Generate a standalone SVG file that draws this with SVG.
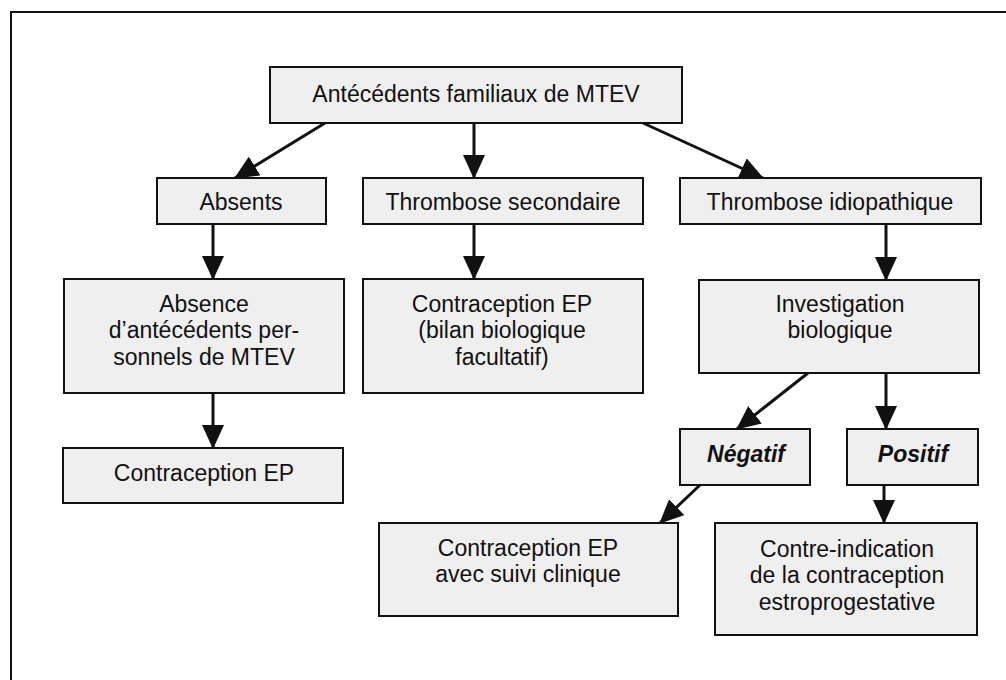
<svg xmlns="http://www.w3.org/2000/svg" width="1006" height="680" viewBox="0 0 1006 680">
<style>
.box{fill:#efefef;stroke:#111;stroke-width:2}
.t{font-family:"Liberation Sans",Arial,sans-serif;font-size:23px;fill:#111;text-anchor:middle}
.bi{font-weight:bold;font-style:italic}
.c{stroke:#111;stroke-width:3;fill:none;marker-end:url(#ah)}
</style>
<defs>
<marker id="ah" markerUnits="userSpaceOnUse" markerWidth="25" markerHeight="23" refX="23" refY="11" orient="auto">
<path d="M0,0 L24,11 L0,22 z" fill="#111"/>
</marker>
</defs>
<rect width="1006" height="680" fill="#fff"/>
<rect x="11" y="12" width="1010" height="700" fill="none" stroke="#111" stroke-width="2"/>
<g id="connectors">
<line class="c" x1="325" y1="123" x2="235" y2="178"/>
<line class="c" x1="474" y1="123" x2="474" y2="178"/>
<line class="c" x1="643" y1="123" x2="763" y2="178"/>
<line class="c" x1="213" y1="224" x2="213" y2="279"/>
<line class="c" x1="474" y1="224" x2="474" y2="279"/>
<line class="c" x1="886" y1="224" x2="886" y2="280"/>
<line class="c" x1="213" y1="393" x2="213" y2="448"/>
<line class="c" x1="808" y1="373" x2="737" y2="429"/>
<line class="c" x1="886" y1="373" x2="886" y2="429"/>
<line class="c" x1="700" y1="485" x2="660" y2="523"/>
<line class="c" x1="884" y1="485" x2="884" y2="523"/>
</g>
<g id="n-top"><rect class="box" x="270" y="67" width="412" height="56"/><text class="t" x="476" y="102">Antécédents familiaux de MTEV</text></g>
<g id="n-absents"><rect class="box" x="157" y="178" width="169" height="46"/><text class="t" x="241" y="210">Absents</text></g>
<g id="n-secondaire"><rect class="box" x="363" y="178" width="280" height="46"/><text class="t" x="503" y="210">Thrombose secondaire</text></g>
<g id="n-idiopathique"><rect class="box" x="680" y="178" width="301" height="46"/><text class="t" x="830" y="210">Thrombose idiopathique</text></g>
<g id="n-absence"><rect class="box" x="64" y="279" width="280" height="114"/><text class="t" x="204" y="312">Absence</text><text class="t" x="204" y="338">d’antécédents per-</text><text class="t" x="204" y="365">sonnels de MTEV</text></g>
<g id="n-bilan"><rect class="box" x="363" y="279" width="280" height="114"/><text class="t" x="502" y="312">Contraception EP</text><text class="t" x="502" y="338">(bilan biologique</text><text class="t" x="502" y="365">facultatif)</text></g>
<g id="n-investigation"><rect class="box" x="699" y="280" width="280" height="93"/><text class="t" x="840" y="312">Investigation</text><text class="t" x="840" y="338">biologique</text></g>
<g id="n-contraception"><rect class="box" x="63" y="448" width="280" height="55"/><text class="t" x="204" y="481">Contraception EP</text></g>
<g id="n-negatif"><rect class="box" x="680" y="429" width="130" height="56"/><text class="t bi" x="746" y="462">Négatif</text></g>
<g id="n-positif"><rect class="box" x="847" y="429" width="131" height="56"/><text class="t bi" x="913" y="462">Positif</text></g>
<g id="n-suivi"><rect class="box" x="379" y="523" width="299" height="93"/><text class="t" x="528" y="556">Contraception EP</text><text class="t" x="528" y="582">avec suivi clinique</text></g>
<g id="n-contreindication"><rect class="box" x="715" y="523" width="262" height="112"/><text class="t" x="847" y="557">Contre-indication</text><text class="t" x="847" y="583">de la contraception</text><text class="t" x="847" y="610">estroprogestative</text></g>
</svg>
